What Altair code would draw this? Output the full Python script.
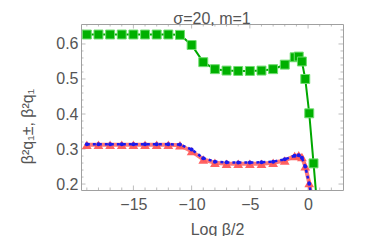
import altair as alt
import pandas as pd

# x positions (Log beta/2)
x_vals = [-19, -18, -17, -16, -15, -14, -13, -12, -11, -10, -9, -8, -7, -6, -5, -4, -3, -2,
          -1.15, -0.8, -0.53, -0.24, 0.1, 0.47, 0.8]
green_vals = [0.627, 0.627, 0.627, 0.627, 0.627, 0.627, 0.627, 0.627, 0.626, 0.597, 0.548,
              0.528, 0.524, 0.523, 0.523, 0.524, 0.528, 0.541, 0.562, 0.564, 0.55, 0.5,
              0.402, 0.259, 0.13]
red_vals = [0.312, 0.312, 0.312, 0.312, 0.312, 0.312, 0.312, 0.312, 0.311, 0.294, 0.27,
            0.261, 0.258, 0.258, 0.258, 0.258, 0.261, 0.267, 0.28, 0.282, 0.277, 0.251,
            0.203, 0.13, 0.065]
blue_vals = [0.3135, 0.3135, 0.3135, 0.3135, 0.3135, 0.3135, 0.3135, 0.3135, 0.313, 0.2985,
             0.274, 0.264, 0.262, 0.2615, 0.2615, 0.262, 0.264, 0.2705, 0.281, 0.282, 0.275,
             0.25, 0.201, 0.1295, 0.065]

x_domain = [-19.5, 3]
y_domain = [0.183, 0.657]
x_major = [-15, -10, -5, 0]
x_minor = [v for v in range(-19, 3) if v % 5 != 0]
y_major = [0.2, 0.3, 0.4, 0.5, 0.6]
y_minor = [0.2 + 0.02 * i for i in range(23) if i % 5 != 0]

df = pd.DataFrame({"x": x_vals, "green": green_vals, "red": red_vals, "blue": blue_vals})

FONT = "Liberation Sans"
GRAY = "#555555"
FRAME = "#a0a0a0"

xs = alt.Scale(domain=x_domain, nice=False, zero=False)
ys = alt.Scale(domain=y_domain, nice=False, zero=False)

X = alt.X("x:Q", scale=xs, axis=alt.Axis(
    values=x_major, format="d", title="Log β/2", ticks=False, grid=False, domain=False,
    labelFont=FONT, labelFontSize=16, labelColor=GRAY, labelPadding=6,
    titleFont=FONT, titleFontSize=16, titleColor=GRAY, titleFontWeight="normal",
    titleX=136, titleY=39, titleBaseline="middle"))

def Y(field):
    return alt.Y(f"{field}:Q", scale=ys, axis=alt.Axis(
        values=y_major, format=".1f", title="β²q₁±, β²q₁", ticks=False, grid=False,
        domain=False, labelFont=FONT, labelFontSize=16, labelColor=GRAY, labelPadding=3,
        titleFont=FONT, titleFontSize=16, titleColor=GRAY, titleFontWeight="normal",
        titleX=-54, titleY=102, titleAlign="center", titleBaseline="middle"))

base = alt.Chart(df)

red_line = base.mark_line(color="#ff6a6a", strokeWidth=4, opacity=0.9, clip=True).encode(x=X, y=Y("red"))
red_pts = base.mark_point(shape="triangle-up", filled=True, size=95, color="#ff5a5a", opacity=0.95,
                          clip=True).encode(x=X, y=Y("red"))
blue_line = base.mark_line(color="#1a1aee", strokeWidth=2.5, strokeDash=[3, 3], clip=True).encode(x=X, y=Y("blue"))
blue_pts = base.mark_point(shape="circle", filled=True, size=16, color="#1a1aee", opacity=1,
                           clip=True).encode(x=X, y=Y("blue"))
green_line = base.mark_line(color="#00a800", strokeWidth=2, clip=True).encode(x=X, y=Y("green"))
green_pts = base.mark_point(shape="square", filled=True, size=80, color="#00b000", opacity=1,
                            stroke="#6fdc6f", strokeWidth=1, clip=True).encode(x=X, y=Y("green"))

def xticks(vals, size):
    d = pd.DataFrame({"x": vals})
    return [alt.Chart(d).mark_tick(orient="vertical", size=size, thickness=1,
                                   color=FRAME, clip=True)
            .encode(x=alt.X("x:Q", scale=xs), y=alt.YDatum(yv)) for yv in y_domain]

def yticks(vals, size):
    d = pd.DataFrame({"y": vals})
    return [alt.Chart(d).mark_tick(orient="horizontal", size=size, thickness=1,
                                   color=FRAME, clip=True)
            .encode(y=alt.Y("y:Q", scale=ys), x=alt.XDatum(xv)) for xv in x_domain]

tick_layers = xticks(x_major, 9) + xticks(x_minor, 5) + yticks(y_major, 9) + yticks(y_minor, 5)

chart = alt.layer(
    *tick_layers, red_line, red_pts, blue_line, blue_pts, green_line, green_pts
).properties(
    width=262, height=166,
    title=alt.TitleParams("σ=20, m=1", font=FONT, fontSize=16, color=GRAY,
                          fontWeight="normal", offset=-3),
    autosize=alt.AutoSizeParams(type="none"),
    padding={"left": 73, "top": 16, "right": 30, "bottom": 46},
).configure_view(stroke=FRAME, strokeWidth=1)

chart.save("out.html", embed_options={"renderer": "svg", "actions": False})
